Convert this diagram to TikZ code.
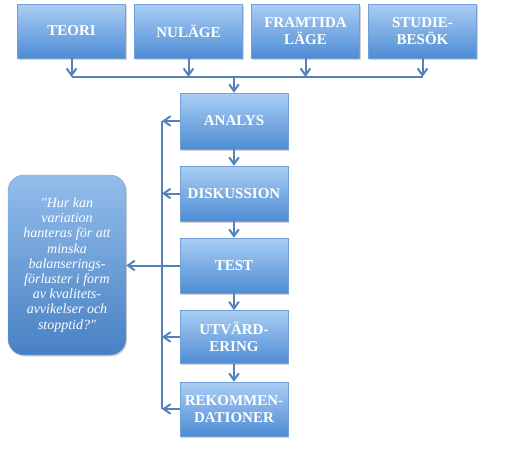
\documentclass[tikz,border=0pt]{standalone}
\usepackage{fontspec}
\setmainfont{Liberation Serif}
\newfontfamily\fragefont{Liberation Serif}[Ligatures=Common]
\definecolor{boxtop}{RGB}{170,206,244}
\definecolor{boxbot}{RGB}{78,140,212}
\definecolor{boxedge}{RGB}{115,160,212}
\definecolor{linkblue}{RGB}{84,130,185}
\usetikzlibrary{positioning, arrows.meta, shadows}

\begin{document}
\begin{tikzpicture}[x=1pt, y=-1pt,
  stegbox/.style={draw=boxedge, line width=0.4pt, top color=boxtop, bottom color=boxbot,
    minimum width=108pt, minimum height=#1, align=center, inner sep=2pt,
    font=\fontsize{15}{17}\selectfont\bfseries, text=white,
    drop shadow={opacity=0.35, shadow xshift=1pt, shadow yshift=-1.5pt}},
  stegbox/.default=54pt,
  fragebox/.style={draw=boxedge, rounded corners=16pt, top color=boxtop!75!boxbot,
    bottom color=boxbot!92!black, minimum width=118pt, minimum height=180pt,
    align=center, font=\fragefont\fontsize{14}{15.2}\selectfont\itshape,
    text=white, drop shadow={opacity=0.35, shadow xshift=1pt, shadow yshift=-1.5pt}},
  pil/.style={-{Straight Barb[length=2.4mm, width=3.4mm]}, line width=2pt, linkblue},
  lin/.style={line width=2pt, linkblue},
]
\useasboundingbox (0,0) rectangle (509,453);

% Top row
\node[stegbox] (teori) at (71.5,31) {TEORI};
\node[stegbox] (nulage) at (188.5,31) {NULÄGE};
\node[stegbox] (framtid) at (305.5,31) {FRAMTIDA\\LÄGE};
\node[stegbox] (studie) at (422.5,31) {STUDIE-\\BESÖK};

% Main chain
\node[stegbox=56pt] (analys) at (234,121) {ANALYS};
\node[stegbox=55pt] (diskussion) at (234,193.5) {DISKUSSION};
\node[stegbox=55pt] (test) at (234,265.5) {TEST};
\node[stegbox=53pt] (utvard) at (234,337) {UTVÄRD-\\ERING};
\node[stegbox=54pt] (rekom) at (234,409) {REKOMMEN-\\DATIONER};

% Research question
\node[fragebox] (fraga) at (67,265) {"Hur kan\\variation\\hanteras för att\\minska\\balanserings-\\förluster i form\\av kvalitets-\\avvikelser och\\stopptid?"};

% Bus below the top row
\coordinate (buss) at (0,77);
\coordinate (retur) at (162,0);
\draw[lin] (teori.south |- buss) -- (studie.south |- buss);
\draw[pil] (teori) -- (teori.south |- buss);
\draw[pil] (nulage) -- (nulage.south |- buss);
\draw[pil] (framtid) -- (framtid.south |- buss);
\draw[pil] (studie) -- (studie.south |- buss);
\draw[pil] (analys.north |- buss) -- (analys);

\draw[pil] (analys) -- (diskussion);
\draw[pil] (diskussion) -- (test);
\draw[pil] (test) -- (utvard);
\draw[pil] (utvard) -- (rekom);

% Feedback line
\draw[lin] (retur |- analys.west) -- (retur |- rekom.west);
\draw[pil] (analys.west) -- (retur |- analys.west);
\draw[pil] (diskussion.west) -- (retur |- diskussion.west);
\draw[pil] (utvard.west) -- (retur |- utvard.west);
\draw[pil] (rekom.west) -- (retur |- rekom.west);
\draw[pil] (test.west) -- (test.west -| fraga.east);
\end{tikzpicture}
\end{document}
